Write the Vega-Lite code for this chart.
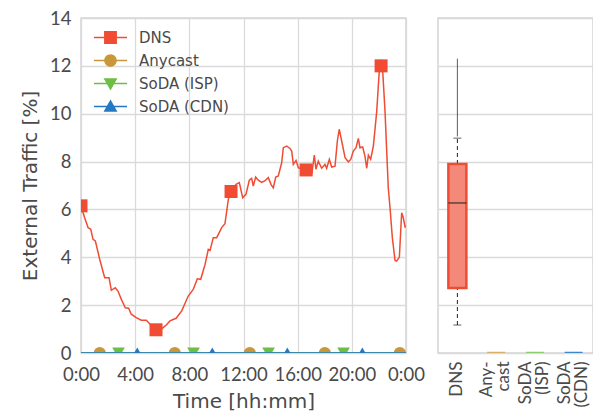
{
"$schema": "https://vega.github.io/schema/vega-lite/v6.json",
"padding": {"left": 19, "top": 8, "right": 0, "bottom": 0},
"spacing": 11,
"resolve": {
  "scale": {"color": "independent", "stroke": "independent", "fill": "independent", "shape": "independent"},
  "legend": {"color": "independent", "stroke": "independent", "fill": "independent", "shape": "independent"}
},
"config": {
  "font": "Lato",
  "view": {"stroke": "#d3d3d3", "strokeWidth": 1.5},
  "axis": {"domain": false, "ticks": false, "gridColor": "#dadada", "gridWidth": 1.3, "labelColor": "#4a4a4a", "titleColor": "#4a4a4a", "labelFont": "Lato", "titleFont": "DejaVu Sans", "labelFontSize": 18.5, "titleFontSize": 20, "titleFontWeight": "normal"},
  "legend": {"labelFont": "DejaVu Sans"}
},
"datasets": {
  "dns": [
    {"hour": 0, "value": 6.15}, {"hour": 0.27, "value": 5.65}, {"hour": 0.52, "value": 5.24}, {"hour": 0.72, "value": 5.17},
    {"hour": 0.89, "value": 4.75}, {"hour": 1.06, "value": 4.68}, {"hour": 1.38, "value": 3.92}, {"hour": 1.75, "value": 3.15},
    {"hour": 2.07, "value": 3.15}, {"hour": 2.24, "value": 2.62}, {"hour": 2.53, "value": 2.73}, {"hour": 2.73, "value": 2.59},
    {"hour": 2.98, "value": 2.24}, {"hour": 3.27, "value": 1.89}, {"hour": 3.52, "value": 1.87}, {"hour": 3.71, "value": 1.62},
    {"hour": 4.08, "value": 1.48}, {"hour": 4.45, "value": 1.37}, {"hour": 4.82, "value": 1.37}, {"hour": 5.07, "value": 1.22},
    {"hour": 5.32, "value": 1.05}, {"hour": 5.56, "value": 0.95}, {"hour": 5.83, "value": 0.95}, {"hour": 6.06, "value": 1.06},
    {"hour": 6.3, "value": 1.17}, {"hour": 6.57, "value": 1.34}, {"hour": 7.02, "value": 1.45}, {"hour": 7.44, "value": 1.76},
    {"hour": 7.92, "value": 2.38}, {"hour": 8.29, "value": 2.66}, {"hour": 8.59, "value": 3.1}, {"hour": 8.84, "value": 3.08},
    {"hour": 9.16, "value": 3.7}, {"hour": 9.4, "value": 4.33}, {"hour": 9.53, "value": 4.29}, {"hour": 9.77, "value": 4.82},
    {"hour": 10.02, "value": 4.82}, {"hour": 10.39, "value": 5.24}, {"hour": 10.63, "value": 5.4}, {"hour": 10.88, "value": 6.42},
    {"hour": 11.08, "value": 6.75}, {"hour": 11.45, "value": 7.05}, {"hour": 11.69, "value": 7.12}, {"hour": 11.94, "value": 6.49},
    {"hour": 12.18, "value": 6.63}, {"hour": 12.43, "value": 7.22}, {"hour": 12.6, "value": 7.3}, {"hour": 12.72, "value": 6.98},
    {"hour": 12.9, "value": 7.35}, {"hour": 13.09, "value": 7.22}, {"hour": 13.34, "value": 7.13}, {"hour": 13.59, "value": 7.2},
    {"hour": 13.83, "value": 7.33}, {"hour": 14.03, "value": 7.05}, {"hour": 14.2, "value": 6.9}, {"hour": 14.38, "value": 7.35},
    {"hour": 14.57, "value": 7.4}, {"hour": 14.82, "value": 7.95}, {"hour": 14.94, "value": 8.58}, {"hour": 15.19, "value": 8.65},
    {"hour": 15.43, "value": 8.55}, {"hour": 15.56, "value": 8.44}, {"hour": 15.68, "value": 7.88}, {"hour": 15.88, "value": 8.05},
    {"hour": 16.05, "value": 7.74}, {"hour": 16.32, "value": 7.7}, {"hour": 16.69, "value": 7.63}, {"hour": 17.04, "value": 7.47},
    {"hour": 17.23, "value": 8.27}, {"hour": 17.35, "value": 7.68}, {"hour": 17.52, "value": 8.02}, {"hour": 17.77, "value": 7.72},
    {"hour": 18.02, "value": 7.88}, {"hour": 18.14, "value": 7.72}, {"hour": 18.34, "value": 8.09}, {"hour": 18.51, "value": 7.77},
    {"hour": 18.76, "value": 7.81}, {"hour": 18.93, "value": 8.86}, {"hour": 19.07, "value": 9.35}, {"hour": 19.25, "value": 8.86},
    {"hour": 19.5, "value": 8.16}, {"hour": 19.74, "value": 7.99}, {"hour": 19.92, "value": 8.09}, {"hour": 20.11, "value": 8.44},
    {"hour": 20.31, "value": 8.58}, {"hour": 20.48, "value": 8.97}, {"hour": 20.6, "value": 8.58}, {"hour": 20.8, "value": 8.61},
    {"hour": 20.97, "value": 8.23}, {"hour": 21.1, "value": 7.72}, {"hour": 21.22, "value": 8.27}, {"hour": 21.39, "value": 8.09},
    {"hour": 21.59, "value": 8.65}, {"hour": 21.84, "value": 10.11}, {"hour": 22.01, "value": 11.65}, {"hour": 22.15, "value": 12.25},
    {"hour": 22.28, "value": 11.78}, {"hour": 22.45, "value": 10.11}, {"hour": 22.69, "value": 6.91}, {"hour": 22.82, "value": 6.07},
    {"hour": 22.99, "value": 4.82}, {"hour": 23.19, "value": 3.87}, {"hour": 23.31, "value": 3.84}, {"hour": 23.51, "value": 4.01},
    {"hour": 23.68, "value": 5.86}, {"hour": 23.8, "value": 5.65}, {"hour": 23.93, "value": 5.27}, {"hour": 24, "value": 5.3}
  ],
  "flat": [
    {"series": "Anycast", "hour": 0, "value": 0}, {"series": "Anycast", "hour": 24, "value": 0},
    {"series": "SoDA (ISP)", "hour": 0, "value": 0}, {"series": "SoDA (ISP)", "hour": 24, "value": 0},
    {"series": "SoDA (CDN)", "hour": 0, "value": 0}, {"series": "SoDA (CDN)", "hour": 24, "value": 0}
  ],
  "markers": [
    {"series": "DNS", "hour": 0, "value": 6.15}, {"series": "DNS", "hour": 5.54, "value": 0.97},
    {"series": "DNS", "hour": 11.08, "value": 6.75}, {"series": "DNS", "hour": 16.62, "value": 7.65},
    {"series": "DNS", "hour": 22.16, "value": 12.0},
    {"series": "Anycast", "hour": 1.385, "value": 0}, {"series": "Anycast", "hour": 6.925, "value": 0},
    {"series": "Anycast", "hour": 12.465, "value": 0}, {"series": "Anycast", "hour": 18.005, "value": 0},
    {"series": "Anycast", "hour": 23.545, "value": 0},
    {"series": "SoDA (ISP)", "hour": 2.77, "value": 0}, {"series": "SoDA (ISP)", "hour": 8.31, "value": 0},
    {"series": "SoDA (ISP)", "hour": 13.85, "value": 0}, {"series": "SoDA (ISP)", "hour": 19.39, "value": 0},
    {"series": "SoDA (CDN)", "hour": 4.155, "value": 0}, {"series": "SoDA (CDN)", "hour": 9.695, "value": 0},
    {"series": "SoDA (CDN)", "hour": 15.235, "value": 0}, {"series": "SoDA (CDN)", "hour": 20.775, "value": 0}
  ],
  "box": [
    {"series": "DNS", "lower": 1.17, "q1": 2.72, "median": 6.27, "q3": 7.9, "upper": 8.98, "fmin": 9.05, "fmax": 12.3},
    {"series": "Anycast", "lower": 0, "q1": 0, "median": 0, "q3": 0, "upper": 0, "fmin": 0, "fmax": 0},
    {"series": "SoDA (ISP)", "lower": 0, "q1": 0, "median": 0, "q3": 0, "upper": 0, "fmin": 0, "fmax": 0},
    {"series": "SoDA (CDN)", "lower": 0, "q1": 0, "median": 0, "q3": 0, "upper": 0, "fmin": 0, "fmax": 0}
  ]
},
"hconcat": [
  {
    "width": 325,
    "height": 335,
    "encoding": {
      "x": {"field": "hour", "type": "quantitative", "scale": {"domain": [0, 24], "nice": false, "zero": false},
            "axis": {"title": "Time [hh:mm]", "values": [0, 4, 8, 12, 16, 20, 24], "labelExpr": "(datum.value % 24) + ':00'", "labelFlush": false, "labelOverlap": false, "labelPadding": 12, "titlePadding": 8}},
      "y": {"field": "value", "type": "quantitative", "scale": {"domain": [0, 14], "nice": false},
            "axis": {"title": "External Traffic [%]", "values": [0, 2, 4, 6, 8, 10, 12, 14], "labelPadding": 10, "titlePadding": 9}}
    },
    "layer": [
      {"data": {"name": "dns"}, "mark": {"type": "line", "color": "#F04C34", "strokeWidth": 1.5, "clip": true}, "encoding": {}},
      {"data": {"name": "markers"}, "transform": [{"filter": "datum.series == 'DNS'"}],
       "mark": {"type": "point", "shape": "square", "filled": true, "opacity": 1, "size": 169, "color": "#F04C34", "clip": true}},
      {"data": {"name": "flat"}, "transform": [{"filter": "datum.series == 'Anycast'"}],
       "mark": {"type": "line", "strokeWidth": 1.5, "clip": true, "color": "#C9963A"}, "encoding": {}},
      {"data": {"name": "markers"}, "transform": [{"filter": "datum.series == 'Anycast'"}],
       "mark": {"type": "point", "shape": "circle", "filled": true, "opacity": 1, "size": 150, "color": "#C9963A", "clip": true}},
      {"data": {"name": "flat"}, "transform": [{"filter": "datum.series == 'SoDA (ISP)'"}],
       "mark": {"type": "line", "strokeWidth": 1.5, "clip": true, "color": "#6DBE45"}, "encoding": {}},
      {"data": {"name": "markers"}, "transform": [{"filter": "datum.series == 'SoDA (ISP)'"}],
       "mark": {"type": "point", "shape": "triangle-down", "filled": true, "opacity": 1, "size": 160, "color": "#6DBE45", "clip": true}},
      {"data": {"name": "flat"}, "transform": [{"filter": "datum.series == 'SoDA (CDN)'"}],
       "mark": {"type": "line", "strokeWidth": 1.5, "clip": true, "color": "#2479C4"}, "encoding": {}},
      {"data": {"name": "markers"}, "transform": [{"filter": "datum.series == 'SoDA (CDN)'"}],
       "mark": {"type": "point", "shape": "triangle-up", "filled": true, "opacity": 1, "size": 160, "color": "#2479C4", "clip": true}},
      {"data": {"name": "markers"},
       "mark": {"type": "point", "filled": true, "opacity": 1, "size": 0, "strokeWidth": 0},
       "encoding": {
         "color": {"field": "series", "type": "nominal",
                   "scale": {"domain": ["DNS", "Anycast", "SoDA (ISP)", "SoDA (CDN)"], "range": ["#F04C34", "#C9963A", "#6DBE45", "#2479C4"]},
                   "legend": {"orient": "none", "legendX": 13, "legendY": 8, "title": null, "symbolSize": 1089, "clipHeight": 23, "rowPadding": 0, "labelOffset": 12, "labelFontSize": 15, "labelColor": "#4a4a4a", "symbolStrokeWidth": 0, "symbolOpacity": 1, "padding": 0, "labelFont": "DejaVu Sans"}},
         "shape": {"field": "series", "type": "nominal",
                   "scale": {"domain": ["DNS", "Anycast", "SoDA (ISP)", "SoDA (CDN)"],
                             "range": ["M-1,-0.045H1V0.045H-1ZM-0.39,-0.39H0.39V0.39H-0.39Z",
                                       "M-1,-0.045H1V0.045H-1ZM0.38,0A0.38,0.38,0,1,1,-0.38,0A0.38,0.38,0,1,1,0.38,0Z",
                                       "M-1,-0.045H1V0.045H-1ZM-0.42,-0.32H0.42L0,0.42Z",
                                       "M-1,-0.045H1V0.045H-1ZM0.42,0.32H-0.42L0,-0.42Z"]},
                   "legend": {"orient": "none"}}
       }}
    ]
  },
  {
    "width": 155,
    "height": 335,
    "data": {"name": "box"},
    "encoding": {
      "x": {"field": "series", "type": "nominal",
            "scale": {"domain": ["DNS", "Anycast", "SoDA (ISP)", "SoDA (CDN)"], "paddingInner": 0, "paddingOuter": 0},
            "axis": {"title": null, "labelAngle": -90, "grid": false, "labelPadding": 8, "labelLineHeight": 17, "labelFontSize": 17,
                     "labelOffset": {"condition": {"test": "datum.value == 'DNS'", "value": 0}, "value": -9},
                     "labelExpr": "datum.value == 'Anycast' ? ['Any-', 'cast'] : datum.value == 'SoDA (ISP)' ? ['SoDA', '(ISP)'] : datum.value == 'SoDA (CDN)' ? ['SoDA', '(CDN)'] : datum.value"}}
    },
    "layer": [
      {"transform": [{"filter": "datum.series == 'DNS'"}],
       "mark": {"type": "rule", "strokeDash": [4, 3], "color": "#222222", "strokeWidth": 1},
       "encoding": {"y": {"field": "lower", "type": "quantitative", "scale": {"domain": [0, 14], "nice": false},
                          "axis": {"title": null, "labels": false, "values": [0, 2, 4, 6, 8, 10, 12, 14], "grid": true}},
                    "y2": {"field": "q1"}}},
      {"transform": [{"filter": "datum.series == 'DNS'"}],
       "mark": {"type": "rule", "strokeDash": [4, 3], "color": "#222222", "strokeWidth": 1},
       "encoding": {"y": {"field": "q3", "type": "quantitative"}, "y2": {"field": "upper"}}},
      {"transform": [{"filter": "datum.series == 'DNS'"}],
       "mark": {"type": "rule", "color": "#333333", "strokeWidth": 0.8},
       "encoding": {"y": {"field": "fmin", "type": "quantitative"}, "y2": {"field": "fmax"}}},
      {"transform": [{"filter": "datum.series == 'DNS'"}],
       "mark": {"type": "tick", "color": "#222222", "size": 8, "thickness": 1},
       "encoding": {"y": {"field": "lower", "type": "quantitative"}}},
      {"transform": [{"filter": "datum.series == 'DNS'"}],
       "mark": {"type": "tick", "color": "#222222", "size": 8, "thickness": 1},
       "encoding": {"y": {"field": "upper", "type": "quantitative"}}},
      {"mark": {"type": "bar", "width": 18, "strokeWidth": 2.5, "clip": true, "opacity": 1},
       "encoding": {"y": {"field": "q1", "type": "quantitative"}, "y2": {"field": "q3"},
                    "fill": {"field": "series", "type": "nominal", "scale": {"domain": ["DNS", "Anycast", "SoDA (ISP)", "SoDA (CDN)"], "range": ["#F4897A", "#DDBB80", "#A2D488", "#6FA8DC"]}, "legend": null},
                    "stroke": {"field": "series", "type": "nominal", "scale": {"domain": ["DNS", "Anycast", "SoDA (ISP)", "SoDA (CDN)"], "range": ["#F04C34", "#D6AE6A", "#8DCB6C", "#3C86CA"]}, "legend": null}}},
      {"transform": [{"filter": "datum.series == 'DNS'"}],
       "mark": {"type": "tick", "color": "#222222", "size": 18, "thickness": 1.5},
       "encoding": {"y": {"field": "median", "type": "quantitative"}}}
    ]
  }
]
}
